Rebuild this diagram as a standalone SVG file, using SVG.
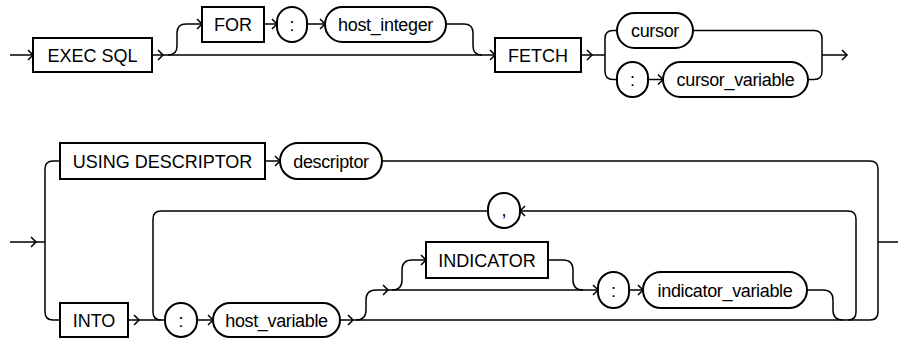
<svg xmlns="http://www.w3.org/2000/svg" xmlns:xlink="http://www.w3.org/1999/xlink" width="898" height="340" viewBox="0 0 898 340">
<style>
.ln{fill:none;stroke:#000;stroke-width:1.5}
.bx{fill:#fff;stroke:#000;stroke-width:2}
.t{font-family:"Liberation Sans",Arial,sans-serif;font-size:18px;fill:#000;text-anchor:middle}
.lc{letter-spacing:-0.35px}
</style>
<defs>
<path id="ar" d="M-5,-5 L0,0 L-5,5" class="ln"/>
</defs>
<rect width="898" height="340" fill="#fff"/>
<g id="connectors">
<path class="ln" d="M10,55 L33,55"/>
<path class="ln" d="M152,55 L495,55"/>
<path class="ln" d="M168,55 Q177,55 177,46 L177,33 Q177,24 186,24 L202,24"/>
<path class="ln" d="M264,24 L277,24"/>
<path class="ln" d="M307,24 L325,24"/>
<path class="ln" d="M446,24 L464,24 Q473,24 473,33 L473,46 Q473,55 482,55"/>
<path class="ln" d="M581,55 L605,55"/>
<path class="ln" d="M617,30.5 L613,30.5 Q605,30.5 605,38.5 L605,71.5 Q605,79.5 613,79.5 L617,79.5"/>
<path class="ln" d="M648,79.5 L663,79.5"/>
<path class="ln" d="M693,30.5 L814,30.5 Q822,30.5 822,38.5 L822,71.5 Q822,79.5 814,79.5 L808,79.5"/>
<path class="ln" d="M822,55 L847,55"/>
<use xlink:href="#ar" href="#ar" x="33" y="55"/>
<use xlink:href="#ar" href="#ar" x="163" y="55"/>
<use xlink:href="#ar" href="#ar" x="202" y="24"/>
<use xlink:href="#ar" href="#ar" x="277" y="24"/>
<use xlink:href="#ar" href="#ar" x="325" y="24"/>
<use xlink:href="#ar" href="#ar" x="495" y="55"/>
<use xlink:href="#ar" href="#ar" x="592" y="55"/>
<use xlink:href="#ar" href="#ar" x="663" y="79.5"/>
<use xlink:href="#ar" href="#ar" x="847" y="55"/>
<path class="ln" d="M10,242 L45,242"/>
<path class="ln" d="M60,161 L53,161 Q45,161 45,169 L45,312 Q45,320 53,320 L60,320"/>
<path class="ln" d="M265,161 L280,161"/>
<path class="ln" d="M382,161 L870,161 Q878,161 878,169 L878,312 Q878,320 870,320"/>
<path class="ln" d="M878,242 L898,242"/>
<path class="ln" d="M128,320 L165,320"/>
<path class="ln" d="M197,320 L213,320"/>
<path class="ln" d="M340,320 L870,320"/>
<path class="ln" d="M488,211 L161,211 Q153,211 153,219 L153,312 Q153,320 161,320"/>
<path class="ln" d="M848,320 Q856,320 856,312 L856,219 Q856,211 848,211 L520,211"/>
<path class="ln" d="M356,320 Q366,320 366,310 L366,300 Q366,290 376,290 L598,290"/>
<path class="ln" d="M392,290 Q402,290 402,280 L402,270 Q402,260 412,260 L426,260"/>
<path class="ln" d="M548,260 L563,260 Q573,260 573,270 L573,280 Q573,290 583,290"/>
<path class="ln" d="M629,290 L643,290"/>
<path class="ln" d="M807,290 L823,290 Q833,290 833,300 L833,310 Q833,320 843,320"/>
<use xlink:href="#ar" href="#ar" x="36" y="242"/>
<use xlink:href="#ar" href="#ar" x="280" y="161"/>
<use xlink:href="#ar" href="#ar" x="139" y="320"/>
<use xlink:href="#ar" href="#ar" x="213" y="320"/>
<use xlink:href="#ar" href="#ar" x="353" y="320"/>
<use xlink:href="#ar" href="#ar" x="388" y="290"/>
<use xlink:href="#ar" href="#ar" x="426" y="260"/>
<use xlink:href="#ar" href="#ar" x="598" y="290"/>
<use xlink:href="#ar" href="#ar" x="643" y="290"/>
<use xlink:href="#ar" href="#ar" transform="translate(520,211) rotate(180)"/>
</g>
<g id="n_execsql"><rect class="bx" x="33" y="38" width="119" height="34"/><text class="t" x="92.5" y="61.5">EXEC SQL</text></g>
<g id="n_for"><rect class="bx" x="202" y="7" width="62" height="35"/><text class="t" x="233" y="31">FOR</text></g>
<g id="n_colon1"><rect class="bx" x="277" y="7" width="30" height="35" rx="15"/><text class="t" x="292" y="31">:</text></g>
<g id="n_hostint"><rect class="bx" x="325" y="7" width="121" height="35" rx="17.5"/><text class="t lc" x="385.5" y="31">host_integer</text></g>
<g id="n_fetch"><rect class="bx" x="495" y="38" width="86" height="34"/><text class="t" x="538" y="61.5">FETCH</text></g>
<g id="n_cursor"><rect class="bx" x="617" y="13" width="76" height="35" rx="17.5"/><text class="t lc" x="655" y="37">cursor</text></g>
<g id="n_colon2"><rect class="bx" x="617" y="62" width="31" height="35" rx="15.5"/><text class="t" x="632.5" y="86">:</text></g>
<g id="n_cursorvar"><rect class="bx" x="663" y="62" width="145" height="35" rx="17.5"/><text class="t lc" x="735.5" y="86">cursor_variable</text></g>
<g id="n_using"><rect class="bx" x="60" y="143" width="205" height="36"/><text class="t" x="162.5" y="167.5">USING DESCRIPTOR</text></g>
<g id="n_descriptor"><rect class="bx" x="280" y="143" width="102" height="36" rx="18"/><text class="t lc" x="331" y="167.5">descriptor</text></g>
<g id="n_comma"><rect class="bx" x="488" y="193" width="32" height="35" rx="16"/><text class="t" x="504" y="215.5">,</text></g>
<g id="n_into"><rect class="bx" x="60" y="303" width="68" height="34"/><text class="t" x="94" y="326.5">INTO</text></g>
<g id="n_colon3"><rect class="bx" x="165" y="303" width="32" height="34" rx="16"/><text class="t" x="181" y="326.5">:</text></g>
<g id="n_hostvar"><rect class="bx" x="213" y="303" width="127" height="34" rx="17"/><text class="t lc" x="276.5" y="326.5">host_variable</text></g>
<g id="n_indicator"><rect class="bx" x="426" y="242" width="122" height="36"/><text class="t" x="487" y="266.5">INDICATOR</text></g>
<g id="n_colon4"><rect class="bx" x="598" y="272" width="31" height="36" rx="15.5"/><text class="t" x="613.5" y="296.5">:</text></g>
<g id="n_indvar"><rect class="bx" x="643" y="272" width="164" height="36" rx="18"/><text class="t lc" x="725" y="296.5">indicator_variable</text></g>
</svg>
